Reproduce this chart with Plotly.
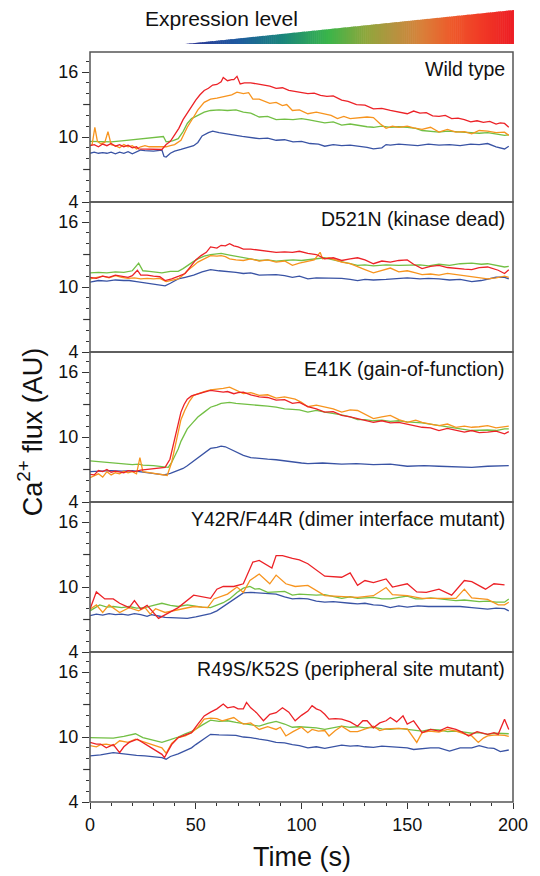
import plotly.graph_objects as go
from plotly.subplots import make_subplots

# ---------------- DATA ----------------
panel_titles = ["Wild type", "D521N (kinase dead)", "E41K (gain-of-function)",
                "Y42R/F44R (dimer interface mutant)", "R49S/K52S (peripheral site mutant)"]
y_labeled = [4, 10, 16]
y_unlabeled_major = [7, 13]
x_ticks = [0, 50, 100, 150, 200]

# Panel 1: Wild type
wt_blue_t = [0,2,4,6,8,10,12,14,16,18,20,22,24,26,28,30,32,34,35,36,38,40,43,46,49,51,53,56,58,61,65,69,72,76,80,84,88,92,96,100,104,108,111,115,119,123,127,131,134,138,140,142,146,150,155,160,165,170,175,180,184,188,192,196,198]
wt_blue_v = [8.5,8.6,8.5,8.55,8.5,8.6,8.45,8.6,8.5,8.65,8.45,8.6,8.8,8.75,8.7,8.7,8.75,8.8,8.2,8.15,8.5,8.7,8.85,9.0,9.2,9.5,10.1,10.4,10.55,10.4,10.3,10.15,10.05,9.95,9.85,9.9,9.7,9.75,9.55,9.6,9.4,9.35,9.15,9.3,9.2,9.25,9.15,9.05,8.9,9.0,9.3,9.25,9.35,9.3,9.2,9.35,9.25,9.3,9.2,9.35,9.3,9.4,9.1,8.9,9.15]
wt_green_t = [0,5,10,15,20,25,30,34.7,36,39,41.7,44,46,48,51,54,57,61,65,69,72.5,76,80,84,88,92,96,100,103,107,111,115,119,123,127,131,134,138,142,146,150,154,157,161,165,169,173,177,180.5,184,188,192,196,198]
wt_green_v = [9.6,9.6,9.55,9.65,9.75,9.85,9.95,10.05,9.55,9.65,9.85,10.5,11.25,11.7,12.0,12.3,12.45,12.5,12.45,12.5,12.3,12.2,11.85,11.9,11.6,11.65,11.6,11.7,11.6,11.45,11.3,11.4,11.1,11.2,11.05,10.95,10.9,11.0,10.9,10.95,10.9,10.8,10.6,10.55,10.45,10.55,10.5,10.45,10.45,10.35,10.4,10.3,10.15,10.2]
wt_orange_t = [0,1,2.3,3.5,5,7,8.5,10,12,14,16,18,20,22,24,26,28,30,33,36,38,40,43,46,49,51,54,57,60,62,65,67,69.5,72.5,75,77,80,83,85,88,91,93,95.7,99,103,107,111,114,117,120,123,126.5,129,131,134,137,140,143,146,150,153,157,161,165,169,173,177,180.5,184,188,192,196,198]
wt_orange_v = [9.2,9.3,10.9,9.6,9.4,9.5,10.5,9.3,9.2,9.0,9.3,9.1,9.2,8.9,9.1,9.2,9.1,9.1,9.1,9.1,9.2,9.3,9.7,10.9,11.85,12.5,13.2,13.5,13.6,13.7,13.8,13.9,14.15,14.0,14.1,13.5,13.5,13.3,13.1,13.2,12.9,13.0,12.45,12.5,12.15,12.3,12.15,12.0,11.7,11.9,11.7,11.75,11.85,11.85,11.8,11.25,10.8,11.0,10.9,11.0,10.85,10.7,10.9,10.45,10.7,10.45,10.5,10.3,10.6,10.55,10.4,10.45,10.15]
wt_red_t = [0,2,4,6,8,10,12,14,16,18,20,22,23,34,36,38,40,42,44,46,48,50,52,54,56,58,60,62,63,65,67,68,69.5,71,73,76,79,82,85,88,91,94,97,100,103,106,109,112,115,119,122,126,130,134,138,142,146,150,153,156,159,162,165,168,171,174,177,180,183,186,189,192,194,196,198]
wt_red_v = [9.2,9.3,9.1,9.35,9.2,9.4,9.15,9.3,9.1,9.25,9.0,9.1,8.9,8.85,9.3,9.6,10.2,10.8,11.6,12.2,12.9,13.4,13.9,14.3,14.5,14.8,14.85,15.1,15.5,15.2,15.3,15.3,15.6,14.9,15.0,15.0,14.9,14.8,14.7,14.5,14.55,14.3,14.2,14.15,14.0,14.05,13.85,13.75,13.8,13.4,13.3,13.0,12.95,12.6,12.65,12.45,12.3,12.15,12.4,12.2,12.25,11.95,11.9,12.0,11.7,11.75,11.6,11.4,11.5,11.35,11.45,11.2,11.3,11.25,10.9]

# Panel 2: D521N
kd_blue_t = [0,4,8,12,16,18.5,22,26,30,33,35.5,38,41.7,45,49,53,57,61,65,69,72.5,76,80,84,88,92,95.7,99,103,107,111,115,119,123,126.5,130,134,140,146,150,156,160,165,170,175,180.5,185,188,192,196,198]
kd_blue_v = [10.45,10.6,10.55,10.65,10.6,10.6,10.5,10.4,10.3,10.2,10.1,10.35,10.75,10.9,11.1,11.4,11.6,11.5,11.45,11.35,11.25,11.3,11.1,11.15,11.15,11.05,10.9,11.0,10.75,10.85,10.85,10.8,10.8,10.7,10.6,10.7,10.65,10.7,10.8,10.85,10.75,10.8,10.75,10.65,10.7,10.5,10.6,10.75,10.9,10.9,10.75]
kd_green_t = [0,4,8,12,16,20,23,25,28,31,34,38,41.7,44,46,48.5,51,54,57,60,62,66,69,72.5,76,80,84,88,92,96,100,103,107,111,115,119,123,126.5,130,134,140,146,150,156,160,165,170,175,180.5,185,188,192,196,198]
kd_green_v = [11.3,11.35,11.3,11.4,11.35,11.5,12.2,11.5,11.45,11.35,11.3,11.45,11.45,11.7,12.0,12.3,12.6,12.85,13.0,13.05,13.1,12.95,12.85,12.75,12.6,12.45,12.5,12.4,12.45,12.5,12.45,12.5,12.6,12.7,12.5,12.3,12.15,12.0,12.05,11.95,12.05,12.0,12.0,12.05,11.95,12.1,12.0,12.15,12.2,12.1,12.15,12.0,11.85,11.9]
kd_orange_t = [0,3,6,9,12,15,18,21,24,27,30,33,36,38,41.7,44,46,48.5,51,54,57,60,62,64,66,69,72.5,76,80,84,88,92,95.7,99,103,106,108.8,110,113,116,119,123,126.5,130,134,138,142,146,150,154,157,161,165,169,173,177,180.5,184,188,192,196,198]
kd_orange_v = [10.75,10.9,11.0,10.85,11.05,10.9,10.8,10.85,10.75,10.8,10.75,10.8,10.5,10.6,10.75,11.1,11.5,11.9,12.3,12.6,12.9,12.85,12.9,12.8,12.6,12.5,12.45,12.6,12.4,12.5,12.3,12.4,12.0,12.2,12.35,12.5,13.2,12.6,12.7,12.5,12.3,12.15,11.85,11.6,11.3,11.55,11.75,11.4,11.5,11.3,11.15,11.2,11.1,11.25,11.15,11.05,11.0,10.9,10.75,10.85,11.0,10.9]
kd_red_t = [0,3,6,9,12,15,18,20,22.4,24,27,30,33,35.5,38.6,42,45,48,50,52.5,55,57,60,62,64,66,68,70,72.5,76,80,84,88,92,95.7,99,103,107,111,115,119,123,126.5,130,134,138,142,146,150,153,157,161,165,169,173,177,180.5,184,188,191,193,196,198]
kd_red_v = [10.9,10.8,11.0,10.9,11.1,11.0,10.9,11.05,11.55,11.1,11.1,11.0,10.95,10.6,10.75,11.0,11.25,12.0,12.5,12.9,13.2,13.7,13.6,13.85,13.8,14.0,13.8,13.7,13.5,13.5,13.4,13.35,13.2,13.25,13.2,13.3,13.1,13.0,12.6,12.7,12.45,12.6,12.7,12.5,12.15,12.4,12.3,12.45,12.5,12.1,11.7,11.9,12.0,11.8,11.7,11.65,11.6,11.8,11.85,11.7,11.55,11.25,11.6]

# Panel 3: E41K
gf_blue_t = [0,5,10,15,20,25,30,35,38,41.7,44,46,48.5,51,54,57,60,62,64,66,69,72.5,76,80,84,88,92,95.7,100,103,110,119,126,134,142,150,158,165,173,180.5,188,196,198]
gf_blue_v = [6.8,6.85,6.9,6.85,6.9,6.75,6.65,6.5,6.65,6.9,7.1,7.35,7.7,8.1,8.5,8.95,9.05,9.15,9.1,8.9,8.65,8.3,8.1,8.0,7.95,7.9,7.8,7.65,7.6,7.55,7.6,7.5,7.55,7.45,7.5,7.3,7.35,7.3,7.25,7.2,7.3,7.3,7.35]
gf_green_t = [0,5,10,15,20,23,25,30,35,37,38.6,40,41.7,43,44.5,46,48.5,51,54,57,60,62,64,66,69,72.5,76,80,84,88,92,95.7,99,103,107,111,115,119,123,126.5,130,134,138,142,146,150,157,165,173,180.5,188,192,196,198]
gf_green_v = [7.8,7.7,7.65,7.55,7.45,7.5,7.4,7.35,7.25,7.2,7.65,8.2,8.9,9.6,10.2,10.75,11.3,11.85,12.3,12.75,12.95,13.1,13.15,13.2,13.1,13.05,13.0,12.9,12.85,12.75,12.6,12.55,12.5,12.3,12.45,12.3,12.2,12.05,11.85,11.6,11.6,11.5,11.55,11.45,11.5,11.4,11.3,11.05,10.85,10.6,10.65,10.6,10.75,10.75]
gf_orange_t = [0,2,4,6,8,10,12,14,16,18,20,22,23.6,25,28,31,34,35,36.5,38.6,40,41.7,43,44.8,47,49,51,54,57,60,63,66,69,72.5,76,80,84,88,92,95.7,97,100,103,107,111,115,119,123,126.5,130,134,138,142,146,150,154,157,161,165,169,173,177,180.5,184,188,192,196,198]
gf_orange_v = [6.25,6.4,6.6,6.3,6.8,6.5,6.7,6.6,6.85,6.7,6.8,6.6,8.1,6.8,6.7,6.6,6.5,6.5,6.45,7.65,9.0,10.45,11.6,12.45,13.3,13.85,14.0,14.2,14.35,14.4,14.5,14.6,14.3,14.0,14.1,13.85,13.9,13.6,13.7,13.5,13.5,13.2,12.8,12.95,12.8,12.6,12.3,12.5,12.45,12.1,11.7,11.85,12.0,11.6,11.35,11.55,11.35,11.2,11.05,11.2,10.9,11.0,10.9,10.95,11.05,10.85,10.95,11.0]
gf_red_t = [0,2,4,6,8,10,12,14,16,18,21,24,27,30,33,35.5,37.8,40,41.5,43,44.5,46,48,51,54,57,60,63,65,68,70,72.5,76,80,84,88,92,95.7,99,103,107,111,115,119,123,126.5,130,134,138,142,146,150,154,157,161,165,169,173,177,180.5,184,188,192,196,198]
gf_red_v = [6.55,6.5,6.9,6.8,7.0,6.75,6.85,6.8,6.7,6.9,6.8,6.95,7.0,7.05,7.1,7.2,7.95,9.8,11.1,12.3,13.0,13.5,13.8,14.0,14.15,14.3,14.25,14.15,14.2,14.0,14.1,14.15,13.9,13.7,13.65,13.4,13.45,13.1,13.2,12.8,12.6,12.3,12.35,12.0,11.85,11.7,11.55,11.35,11.5,11.3,11.35,11.2,11.05,10.9,10.85,10.6,10.8,10.6,10.45,10.6,10.4,10.45,10.55,10.3,10.5]

# Panel 4: Y42R/F44R
di_blue_t = [0,3,6,9,12,15,18,21,24,27,29,31,33,35.5,40,46,50,54,57,60,63,66,69,72.5,76,80,84,88,92,95.7,99,103,107,111,115,119,123,126.5,130,134,138,142,146,150,155,160,165,170,175,180.5,185,188,192,196,198]
di_blue_v = [7.35,7.5,7.4,7.55,7.45,7.5,7.4,7.55,7.45,7.3,7.45,7.4,7.3,7.2,7.15,7.1,7.25,7.4,7.55,7.8,8.2,8.6,9.0,9.45,9.5,9.45,9.4,9.35,9.1,8.9,8.95,8.9,8.7,8.6,8.65,8.55,8.5,8.45,8.5,8.35,8.3,8.1,8.25,8.15,8.25,8.2,8.2,8.15,8.2,8.1,8.0,7.95,8.05,8.0,7.8]
di_green_t = [0,4.6,8,11,15,18.5,22,26,30,34,38,41.7,46,49,53,57,60,63,66,69.5,72.5,75.6,78,80,84,88,92,95.7,99,103,107,111,115,119,123,126.5,130,134,138,142,146,150,154,157,161,165,169,173,177,180.5,184,188,192,196,198]
di_green_v = [7.8,8.35,8.15,8.2,8.1,8.2,8.05,8.1,8.3,8.5,8.3,8.2,8.35,8.25,8.15,8.1,8.3,8.55,8.9,9.5,9.9,10.05,9.8,9.85,9.5,9.55,9.6,9.25,9.35,9.3,9.25,9.3,9.1,8.95,9.1,8.95,9.0,9.05,8.9,8.9,9.05,9.15,8.9,8.9,9.0,8.9,8.85,8.75,8.8,8.75,8.65,8.7,8.6,8.6,8.9]
di_orange_t = [0,3,6,9,14,18.5,23,26,28.5,31,35.5,41.7,49,55.6,58.6,65,69.5,72.5,75.6,80,85,88,92.6,97,103,111,119,126.5,134,140,143,150,157,165,173,177,180.5,188,193,196,198]
di_orange_v = [7.95,8.35,7.65,8.35,7.65,8.1,7.8,8.1,7.5,8.0,7.65,7.9,8.2,8.1,8.9,9.35,10.0,9.5,10.6,11.2,10.3,11.1,10.3,10.05,10.15,9.2,9.15,9.05,9.2,9.95,9.3,9.2,8.95,8.95,8.95,9.8,9.0,8.85,8.35,8.35,8.6]
di_red_t = [0,3,7,11,14,18.5,21,24,27,32.4,41.7,49,57,60,63,68,72.5,77,80,86,88,91,95.7,99,103,111,119,123,126.5,130,134,140,143,150,154.5,159,165,171,177,180.5,187,191,196]
di_red_v = [7.95,9.55,8.9,8.9,8.5,8.1,8.75,7.95,8.3,7.1,8.1,9.25,8.95,9.8,10.05,10.05,10.3,12.3,12.45,11.75,12.9,12.9,12.65,12.5,12.15,11.0,10.9,11.3,10.15,10.6,10.4,10.75,10.0,10.3,9.55,9.5,9.8,9.25,10.6,10.5,9.8,10.3,10.2]

# Panel 5: R49S/K52S
ps_blue_t = [0,5,11,15,18.5,22,26,30,34,36,38,41.7,45,48,50,52.5,55,57,61,65,69,72.5,76,80,84,88,92,95.7,99,103,107,111,115,119,123,126.5,130,134,138,142,146,150,153,157,161,165,170,175,180.5,184,188,191,194,198]
ps_blue_v = [8.25,8.35,8.55,8.45,8.35,8.3,8.25,8.2,8.1,7.95,8.2,8.45,8.7,9.0,9.3,9.65,10.0,10.25,10.2,10.2,10.15,10.0,9.95,9.8,9.7,9.5,9.45,9.3,9.2,9.0,9.1,8.95,9.1,9.25,9.15,9.2,9.1,9.05,9.15,9.1,9.05,9.0,8.85,8.95,9.0,9.0,8.7,9.0,9.0,9.2,9.0,8.95,8.65,8.8]
ps_green_t = [0,5,11,16,21.5,25,30,34,38,41.7,45,49,53,57,61,65,69,72.5,76,80,84,88,92,95.7,99,103,107,111,115,119,123,126.5,130,134,138,142,146,150,153,157,161,165,169,173,177,180.5,184,188,192,196,198]
ps_green_v = [9.95,9.9,9.9,10.05,10.3,9.95,9.7,9.5,9.75,10.0,10.3,10.6,11.1,11.55,11.45,11.5,11.35,11.25,11.15,11.0,11.25,11.45,11.2,10.9,10.95,10.9,10.85,10.7,10.85,11.0,10.9,10.95,10.85,10.9,10.75,10.7,10.8,10.7,10.65,10.55,10.7,10.65,10.5,10.55,10.45,10.35,10.4,10.25,10.35,10.3,10.3]
ps_orange_t = [0,3,5,7.7,11,14,18,21.5,34,36,38.6,41.7,45,48,51,54,57,60,62.5,65,68,70,72.5,76,80,84,88,90,92.6,96,100,103,105,108,111,113,116,119,123,126.5,130,134,137,140,145,150,154.5,157,160.5,165,169,173,177,180.5,183.6,186,188,192,196,198]
ps_orange_v = [9.2,9.1,9.3,9.35,9.2,9.65,9.5,9.8,9.0,8.5,9.4,9.95,10.1,10.4,10.9,11.65,11.75,11.7,11.5,11.65,11.8,11.5,11.2,11.3,10.7,10.95,10.7,10.9,10.1,10.5,10.9,10.4,10.7,10.55,10.6,10.1,10.6,11.0,10.5,10.5,10.75,11.0,10.6,10.75,10.8,10.75,9.5,10.4,10.55,10.45,10.7,10.55,10.3,10.1,9.5,9.9,10.1,10.2,10.15,10.05]
ps_red_t = [0,3,5,7.7,11,14,16,18.5,22.4,34,35.2,38.6,41.7,45,48,51,54,57,60,63,65,68,70,72.5,74,76,78.7,82,85,88,91,94,97,100,103,105,107,109,111,113,116,119,123,126.5,129,131,134,137,140,142,145,148,150,153,157,161,165,169,173,176,179,183,188,191,193,196,198]
ps_red_v = [9.5,9.35,9.35,9.0,9.3,8.55,9.1,9.5,9.8,8.4,8.1,9.3,9.95,10.2,10.4,11.2,11.95,12.3,12.6,13.05,12.7,12.8,12.6,12.6,13.2,12.7,12.25,11.5,12.1,12.25,12.7,12.3,11.5,12.0,12.4,12.9,12.6,12.45,12.1,11.65,11.7,11.65,11.4,11.0,11.5,11.5,10.85,11.3,11.5,11.8,11.4,11.95,11.2,11.5,10.4,10.7,10.55,10.9,10.7,10.45,10.1,10.5,10.25,10.4,10.25,11.65,10.7]

panels = [
    [(wt_blue_t, wt_blue_v), (wt_green_t, wt_green_v), (wt_orange_t, wt_orange_v), (wt_red_t, wt_red_v)],
    [(kd_blue_t, kd_blue_v), (kd_green_t, kd_green_v), (kd_orange_t, kd_orange_v), (kd_red_t, kd_red_v)],
    [(gf_blue_t, gf_blue_v), (gf_green_t, gf_green_v), (gf_orange_t, gf_orange_v), (gf_red_t, gf_red_v)],
    [(di_blue_t, di_blue_v), (di_green_t, di_green_v), (di_orange_t, di_orange_v), (di_red_t, di_red_v)],
    [(ps_blue_t, ps_blue_v), (ps_green_t, ps_green_v), (ps_orange_t, ps_orange_v), (ps_red_t, ps_red_v)],
]
line_colors = ["#3953a4", "#72bf44", "#f7941e", "#ec2227"]

# ---------------- FIGURE ----------------
W, H = 540, 876
ML, MR, MT, MB = 90, 18, 52, 74
PW = W - ML - MR
FONT = "Liberation Sans, Arial, sans-serif"
FRAME = "#555555"
TICKC = "#333333"

fig = make_subplots(rows=5, cols=1, shared_xaxes=False, vertical_spacing=0)

for r, series in enumerate(panels, start=1):
    for (t, v), c in zip(series, line_colors):
        fig.add_trace(go.Scatter(x=t, y=v, mode="lines", line=dict(color=c, width=1.3),
                                 showlegend=False, hoverinfo="skip"), row=r, col=1)
    last = (r == 5)
    fig.update_yaxes(row=r, col=1, range=[4, 17.85], tickmode="array", tickvals=y_labeled,
                     ticks="outside", ticklen=7, tickwidth=1.2, tickcolor=TICKC,
                     showline=False, showgrid=False, zeroline=False,
                     tickfont=dict(family=FONT, size=18, color="#111"),
                     minor=dict(tickmode="array", tickvals=list(range(4, 18)), ticks="outside",
                                ticklen=3, tickwidth=1, tickcolor=TICKC, showgrid=False))
    fig.update_xaxes(row=r, col=1, range=[0, 200], showline=False, showgrid=False, zeroline=False,
                     tickmode="array", tickvals=x_ticks if last else [],
                     ticks="outside" if last else "", ticklen=6, tickwidth=1.2, tickcolor=TICKC,
                     showticklabels=last, tickfont=dict(family=FONT, size=18, color="#111"),
                     minor=dict(dtick=10, tick0=0, ticks="outside" if last else "", ticklen=3,
                                tickwidth=1, tickcolor=TICKC, showgrid=False))
    xr = "x domain" if r == 1 else f"x{r} domain"
    yr = "y domain" if r == 1 else f"y{r} domain"
    ya = "y" if r == 1 else f"y{r}"
    # panel frame
    fig.add_shape(type="rect", xref=xr, yref=yr, x0=0, x1=1, y0=0, y1=1,
                  line=dict(color=FRAME, width=1.5), fillcolor="rgba(0,0,0,0)", layer="above")
    # longer unlabeled major ticks
    for yv in y_unlabeled_major:
        fig.add_shape(type="line", xref=xr, yref=ya, x0=-7 / PW, x1=0, y0=yv, y1=yv,
                      line=dict(color=TICKC, width=1.2))
    fig.add_annotation(text=panel_titles[r - 1], xref=xr, yref=yr, x=0.985, y=1,
                       xanchor="right", yanchor="top", yshift=-4, showarrow=False,
                       font=dict(family=FONT, size=19.5, color="#111"))

# gradient triangle ("Expression level")
def px2paper(x, y):
    return (x - ML) / PW, (H - MB - y) / (H - MT - MB)

stops = [(0.0, (46, 49, 146)), (0.16, (30, 90, 160)), (0.30, (26, 135, 122)),
         (0.435, (58, 181, 74)), (0.55, (143, 166, 60)), (0.63, (179, 148, 64)),
         (0.72, (217, 128, 58)), (0.81, (238, 90, 42)), (0.90, (240, 58, 38)),
         (1.0, (237, 28, 36))]

def grad_color(f):
    for (f0, c0), (f1, c1) in zip(stops[:-1], stops[1:]):
        if f <= f1:
            k = (f - f0) / (f1 - f0)
            return "rgb(%d,%d,%d)" % tuple(round(a + (b - a) * k) for a, b in zip(c0, c1))
    return "rgb(%d,%d,%d)" % stops[-1][1]

x0, x1, ybot, ytop = 187.0, 523.0, 44.0, 10.0
N = 168
for i in range(N):
    xa = x0 + (x1 - x0) * i / N
    xb = min(x0 + (x1 - x0) * (i + 1) / N + 0.6, x1)
    ta = ybot - (ybot - ytop) * (xa - x0) / (x1 - x0)
    tb = ybot - (ybot - ytop) * (xb - x0) / (x1 - x0)
    pts = [px2paper(xa, ybot), px2paper(xa, ta), px2paper(xb, tb), px2paper(xb, ybot)]
    path = "M " + " L ".join(f"{p[0]:.5f},{p[1]:.5f}" for p in pts) + " Z"
    fig.add_shape(type="path", path=path, xref="paper", yref="paper",
                  fillcolor=grad_color((i + 0.5) / N), line=dict(width=0), layer="above")

ex, ey = px2paper(144, 18)
fig.add_annotation(text="Expression level", xref="paper", yref="paper", x=ex, y=ey,
                   xanchor="left", yanchor="middle", showarrow=False,
                   font=dict(family=FONT, size=21, color="#111"))

tx, ty = px2paper(306, 857)
fig.add_annotation(text="Time (s)", xref="paper", yref="paper", x=tx, y=ty,
                   xanchor="center", yanchor="middle", showarrow=False,
                   font=dict(family=FONT, size=27, color="#111"))
cx, cy = px2paper(29, 432)
fig.add_annotation(text="Ca<sup>2+</sup> flux (AU)", xref="paper", yref="paper", x=cx, y=cy,
                   xanchor="center", yanchor="middle", textangle=-90, showarrow=False,
                   font=dict(family=FONT, size=27, color="#111"))

fig.update_layout(width=W, height=H, margin=dict(l=ML, r=MR, t=MT, b=MB),
                  plot_bgcolor="white", paper_bgcolor="white", showlegend=False,
                  font=dict(family=FONT))

fig.write_html("out.html")
